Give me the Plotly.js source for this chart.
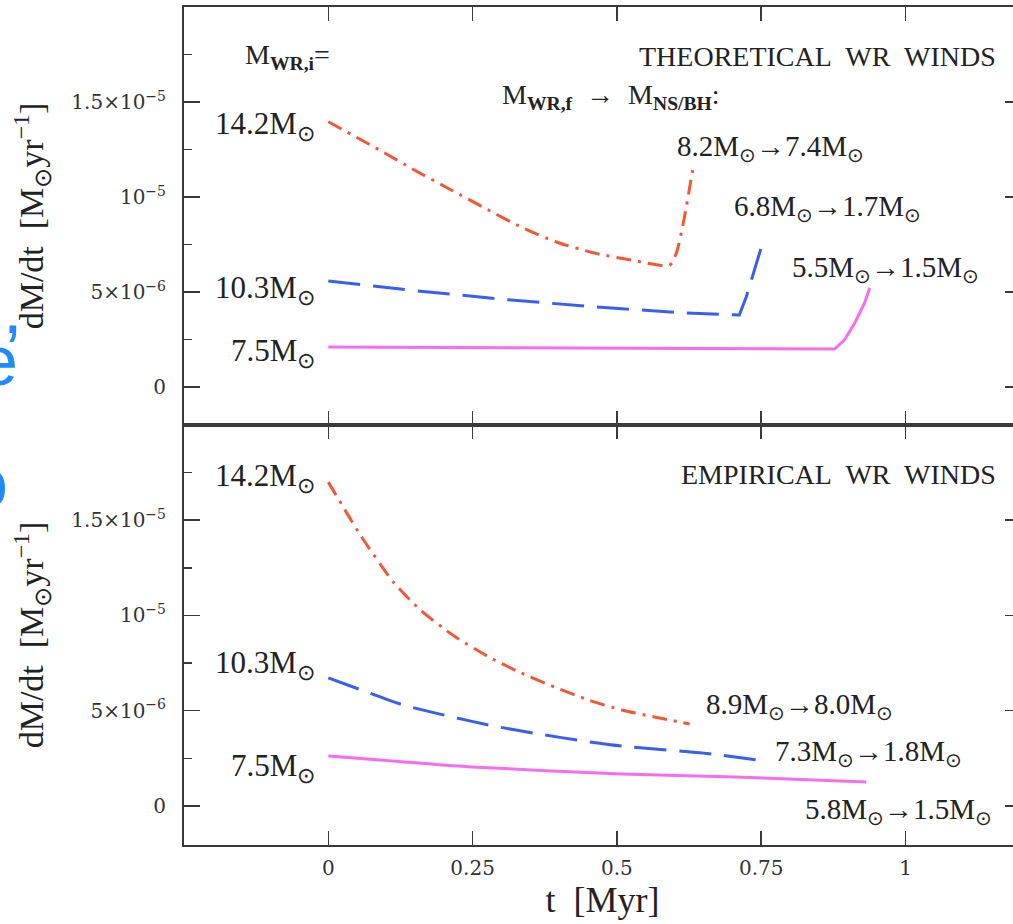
<!DOCTYPE html>
<html><head><meta charset="utf-8">
<script src="https://cdn.plot.ly/plotly-3.0.1.min.js"></script>
<style>html,body{margin:0;padding:0;overflow:hidden;background:#fff}</style>
</head><body><div id="chart" style="width:1021px;height:924px"></div>
<script>
// ---- data (t in Myr, dM/dt in Msun/yr) ----
const initialMasses = ['14.2', '10.3', '7.5'];
const theoFinal = [['8.2', '7.4'], ['6.8', '1.7'], ['5.5', '1.5']];
const empFinal = [['8.9', '8.0'], ['7.3', '1.8'], ['5.8', '1.5']];

// Theoretical WR winds (top panel)
const tTheo142 = [0, 0.089, 0.149, 0.213, 0.277, 0.334, 0.395, 0.461, 0.525, 0.591, 0.603, 0.617, 0.626, 0.633];
const mdotTheo142 = [13.96e-6, 12.47e-6, 11.42e-6, 10.37e-6, 9.32e-6, 8.42e-6, 7.63e-6, 7.05e-6, 6.68e-6, 6.40e-6, 7.05e-6, 8.95e-6, 10.5e-6, 11.74e-6];
const tTheo103 = [0, 0.138, 0.297, 0.456, 0.612, 0.712, 0.724, 0.742, 0.754];
const mdotTheo103 = [5.58e-6, 5.11e-6, 4.63e-6, 4.23e-6, 3.91e-6, 3.79e-6, 4.74e-6, 6.53e-6, 7.74e-6];
const tTheo75 = [0, 0.4, 0.877, 0.894, 0.912, 0.929, 0.938];
const mdotTheo75 = [2.1e-6, 2.07e-6, 2.0e-6, 2.47e-6, 3.37e-6, 4.42e-6, 5.21e-6];

// Empirical WR winds (bottom panel)
const tEmp142 = [0, 0.057, 0.114, 0.161, 0.218, 0.277, 0.334, 0.392, 0.451, 0.508, 0.565, 0.626];
const mdotEmp142 = [17.0e-6, 14.15e-6, 11.7e-6, 10.25e-6, 8.92e-6, 7.84e-6, 6.98e-6, 6.24e-6, 5.56e-6, 5.04e-6, 4.67e-6, 4.30e-6];
const tEmp103 = [0, 0.057, 0.13, 0.208, 0.286, 0.364, 0.444, 0.508, 0.664, 0.745];
const mdotEmp103 = [6.72e-6, 6.09e-6, 5.30e-6, 4.72e-6, 4.20e-6, 3.78e-6, 3.40e-6, 3.15e-6, 2.73e-6, 2.41e-6];
const tEmp75 = [0, 0.248, 0.508, 0.704, 0.932];
const mdotEmp75 = [2.62e-6, 2.05e-6, 1.68e-6, 1.52e-6, 1.26e-6];

const xTickVals = [0, 0.25, 0.5, 0.75, 1];
const xTickText = ['0', '0.25', '0.5', '0.75', '1'];
const yTickVals = [0, 5e-6, 1e-5, 1.5e-5];
const yTickText = ['0', '5×10<sup>−6</sup>', '10<sup>−5</sup>', '1.5×10<sup>−5</sup>'];
const yMinorVals = [2.5e-6, 7.5e-6, 1.25e-5, 1.75e-5];

// ---- styling ----
const RED = '#f0583a', BLUE = '#3a5ef2', MAG = '#f46ef0';
const FONT = 'Liberation Serif, Times New Roman, serif';
const TICKFONT = 'DejaVu Serif, serif';
const lineStyles = [
  {color: RED, width: 3, dash: '15px,7px,3px,7px'},
  {color: BLUE, width: 3, dash: '32px,13px'},
  {color: MAG, width: 3, dash: 'solid'}
];

function tr(x, y, i, xa, ya, smooth) {
  const line = Object.assign({}, lineStyles[i], smooth ? {shape: 'spline', smoothing: 0.6} : {shape: 'linear'});
  return {x: x, y: y, type: 'scatter', mode: 'lines', line: line,
          xaxis: xa, yaxis: ya, showlegend: false, hoverinfo: 'skip'};
}
const data = [
  tr(tTheo142, mdotTheo142, 0, 'x2', 'y2', true),
  tr(tTheo103, mdotTheo103, 1, 'x2', 'y2', false),
  tr(tTheo75, mdotTheo75, 2, 'x2', 'y2', false),
  tr(tEmp142, mdotEmp142, 0, 'x', 'y', true),
  tr(tEmp103, mdotEmp103, 1, 'x', 'y', true),
  tr(tEmp75, mdotEmp75, 2, 'x', 'y', true)
];

const axisCommon = {
  showgrid: false, zeroline: false, showline: true, linecolor: '#3a3a3a', linewidth: 2,
  mirror: 'ticks', ticks: 'inside', tickcolor: '#3a3a3a', tickwidth: 1.5,
  tickfont: {family: TICKFONT, size: 20, color: '#333'}
};
const xRange = [-0.25, 1.2];
const yRangeTop = [-2.0e-6, 2.0e-5];
const yRangeBot = [-2.05e-6, 2.0e-5];
const SPLIT = 0.5012;

const sun = '<sub>⊙</sub>';
const txtFont = {family: FONT, size: 29, color: '#222'};
function ann(text, x, y, xref, yref, xanchor, extra) {
  return Object.assign({text: text, x: x, y: y, xref: xref, yref: yref, xanchor: xanchor,
    yanchor: 'middle', showarrow: false, font: txtFont}, extra || {});
}
const bigFont = {font: {family: FONT, size: 31, color: '#222'}};
const hdrFont = {font: {family: FONT, size: 28, color: '#222'}};
const annotations = [];
// top panel
annotations.push(ann('M<sub><b>WR,i</b></sub>=', 0.006, 17.4e-6, 'x2', 'y2', 'right', hdrFont));
annotations.push(ann('THEORETICAL\u00a0 WR\u00a0 WINDS', 1.161, 17.4e-6, 'x2', 'y2', 'right', hdrFont));
annotations.push(ann('M<sub><b>WR,f</b></sub>\u00a0 → \u00a0M<sub><b>NS/BH</b></sub>:', 0.298, 15.3e-6, 'x2', 'y2', 'left', hdrFont));
const theoY = [13.75e-6, 5.1e-6, 1.8e-6];
const theoFinY = [12.6e-6, 9.4e-6, 6.2e-6];
const theoFinX = [0.6, 0.70, 0.80];
for (let i = 0; i < 3; i++) {
  annotations.push(ann(initialMasses[i] + 'M' + sun, -0.02, theoY[i], 'x2', 'y2', 'right', bigFont));
  annotations.push(ann(theoFinal[i][0] + 'M' + sun + '→' + theoFinal[i][1] + 'M' + sun, theoFinX[i], theoFinY[i], 'x2', 'y2', 'left'));
}
// bottom panel
annotations.push(ann('EMPIRICAL\u00a0 WR\u00a0 WINDS', 1.161, 17.4e-6, 'x', 'y', 'right', hdrFont));
const empY = [17.2e-6, 7.4e-6, 2.0e-6];
const empFinY = [5.25e-6, 2.8e-6, -0.25e-6];
const empFinX = [0.65, 0.77, 0.823];
for (let i = 0; i < 3; i++) {
  annotations.push(ann(initialMasses[i] + 'M' + sun, -0.02, empY[i], 'x', 'y', 'right', bigFont));
  annotations.push(ann(empFinal[i][0] + 'M' + sun + '→' + empFinal[i][1] + 'M' + sun, empFinX[i], empFinY[i], 'x', 'y', 'left'));
}
// cropped slide text at left edge
const blueFont = {family: 'Liberation Sans, Arial, sans-serif', size: 70, color: '#1e8cff'};
annotations.push({text: 'e', xref: 'paper', yref: 'paper', x: -0.222, y: 0.577, xanchor: 'center', yanchor: 'middle', showarrow: false, font: blueFont});
annotations.push({text: ',', xref: 'paper', yref: 'paper', x: -0.205, y: 0.64, xanchor: 'center', yanchor: 'middle', showarrow: false, font: blueFont});
annotations.push({text: 'o', xref: 'paper', yref: 'paper', x: -0.234, y: 0.432, xanchor: 'center', yanchor: 'middle', showarrow: false, font: blueFont});

const yTitle = {text: 'dM/dt\u00a0 [M<sub>⊙</sub>yr<sup>−1</sup>]', font: {family: FONT, size: 34, color: '#222'}, standoff: 17};
const layout = {
  width: 1021, height: 924,
  margin: {l: 184, r: 0, t: 7, b: 79},
  paper_bgcolor: '#fff', plot_bgcolor: '#fff',
  showlegend: false,
  xaxis: Object.assign({}, axisCommon, {domain: [0, 1], range: xRange, anchor: 'y',
    tickmode: 'array', tickvals: xTickVals, ticktext: xTickText, ticklen: 14, ticklabelstandoff: 4,
    title: {text: 't\u00a0 [Myr]', font: {family: FONT, size: 36, color: '#222'}, standoff: 6}}),
  yaxis: Object.assign({}, axisCommon, {domain: [0, SPLIT], range: yRangeBot, anchor: 'x',
    tickmode: 'array', tickvals: yTickVals, ticktext: yTickText, ticklen: 16, ticklabelstandoff: 12,
    minor: {tickvals: yMinorVals, ticklen: 8, ticks: 'inside', tickcolor: '#3a3a3a', tickwidth: 1.5},
    title: yTitle}),
  xaxis2: Object.assign({}, axisCommon, {domain: [0, 1], range: xRange, anchor: 'y2', matches: 'x',
    tickmode: 'array', tickvals: xTickVals, ticktext: xTickText, ticklen: 14, showticklabels: false}),
  yaxis2: Object.assign({}, axisCommon, {domain: [SPLIT, 1], range: yRangeTop, anchor: 'x2',
    tickmode: 'array', tickvals: yTickVals, ticktext: yTickText, ticklen: 16, ticklabelstandoff: 12,
    minor: {tickvals: yMinorVals, ticklen: 8, ticks: 'inside', tickcolor: '#3a3a3a', tickwidth: 1.5},
    title: yTitle}),
  annotations: annotations
};
Plotly.newPlot('chart', data, layout, {staticPlot: true, displayModeBar: false});
</script></body></html>
